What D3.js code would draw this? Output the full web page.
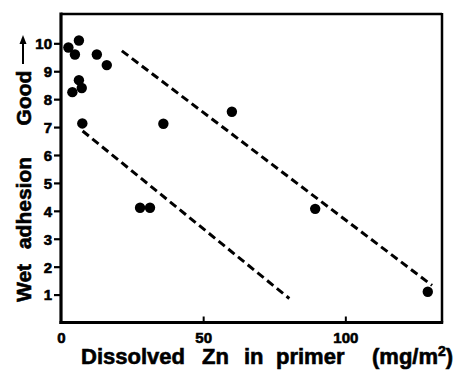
<!DOCTYPE html>
<html>
<head>
<meta charset="utf-8">
<script src="https://cdn.jsdelivr.net/npm/d3@7/dist/d3.min.js"></script>
<style>
  html, body { margin: 0; padding: 0; background: #fff; }
  svg { display: block; }
  text { font-family: "Liberation Sans", Arial, Helvetica, sans-serif; font-weight: bold; fill: #000; stroke: #000; stroke-width: 0.6px; }
</style>
</head>
<body>
<script>
// ---- data ----
const zincX = [2.6, 6.3, 4.9, 12.6, 16.1, 6.3, 4.0, 7.3, 7.5, 36.0, 60.1, 27.8, 31.3, 89.4, 129.0];
const adhesionY = [9.85, 10.1, 9.6, 9.6, 9.22, 8.68, 8.25, 8.4, 7.13, 7.12, 7.55, 4.11, 4.11, 4.07, 1.1];
const upperLine = [[21.4, 9.73], [130.5, 1.33]];
const lowerLine = [[7.6, 6.86], [80.3, 0.86]];
const xTicks = [0, 50, 100];
const yTicks = [1, 2, 3, 4, 5, 6, 7, 8, 9, 10];
const yWords = ["Wet", "adhesion", "Good"];
const xWords = ["Dissolved", "Zn", "in", "primer"];

const W = 463, H = 370;
const mLeft = 61, mRight = 442, mTop = 14, mBottom = 322.5;

const svg = d3.select("body").append("svg").attr("width", W).attr("height", H);

const x = d3.scaleLinear().domain([0, 134]).range([mLeft, mRight]);
const y = d3.scaleLinear().domain([0, 11.05]).range([mBottom, mTop]);

// frame: top & right thinner
svg.append("line").attr("x1", mLeft).attr("x2", mRight).attr("y1", mTop).attr("y2", mTop)
  .attr("stroke", "#000").attr("stroke-width", 2.5);
svg.append("line").attr("x1", mRight).attr("x2", mRight).attr("y1", mTop - 1).attr("y2", mBottom)
  .attr("stroke", "#000").attr("stroke-width", 2.5);

// y axis (outward ticks)
const yAxis = svg.append("g").attr("transform", `translate(${mLeft},0)`)
  .call(d3.axisLeft(y).tickValues(yTicks).tickSize(7).tickPadding(2).tickFormat(d3.format("d")));
yAxis.select(".domain").attr("stroke-width", 3.2).attr("d", `M0,${mTop - 1.5}V${mBottom + 1.5}`);
yAxis.selectAll(".tick line").attr("stroke-width", 2.2);
yAxis.selectAll(".tick text").style("font-size", "15px").attr("dy", "0.36em");

// x axis (inward ticks)
const xAxis = svg.append("g").attr("transform", `translate(0,${mBottom})`)
  .call(d3.axisBottom(x).tickValues(xTicks).tickSize(-6).tickPadding(0).tickFormat(d3.format("d")));
xAxis.select(".domain").attr("stroke-width", 3.2).attr("d", `M${mLeft - 1.5},0H${mRight + 1.2}`);
xAxis.selectAll(".tick line").attr("stroke-width", 2).filter(d => d === 0).remove();
xAxis.selectAll(".tick text").style("font-size", "15px").attr("y", 10).attr("dy", "0.71em");

// dashed lines
const lineGen = d3.line().x(d => x(d[0])).y(d => y(d[1]));
[upperLine, lowerLine].forEach(l => {
  svg.append("path").attr("d", lineGen(l)).attr("fill", "none")
    .attr("stroke", "#000").attr("stroke-width", 3).attr("stroke-dasharray", "8,4.5");
});

// points
svg.append("g").selectAll("circle").data(zincX).join("circle")
  .attr("cx", d => x(d)).attr("cy", (d, i) => y(adhesionY[i])).attr("r", 5.2).attr("fill", "#000");

// y label (rotated words)
const yLabCenters = [283, 203, 98];
const yl = svg.append("g");
yWords.forEach((w, i) => {
  yl.append("text").attr("transform", `translate(31,${yLabCenters[i]}) rotate(-90)`)
    .attr("text-anchor", "middle").style("font-size", "21px").text(w);
});
// arrow after "Good"
yl.append("line").attr("x1", 23).attr("x2", 23).attr("y1", 64).attr("y2", 42)
  .attr("stroke", "#000").attr("stroke-width", 2);
yl.append("path").attr("d", "M23,35L19.5,44L26.5,44Z").attr("fill", "#000");

// x label
const xt = svg.append("text").attr("y", 364).style("font-size", "22px");
const xPos = [81, 202, 244, 276];
xWords.forEach((w, i) => xt.append("tspan").attr("x", xPos[i]).text(w));
xt.append("tspan").attr("x", 372).text("(mg/m");
xt.append("tspan").attr("dy", -8).style("font-size", "14px").text("2");
xt.append("tspan").attr("dy", 8).text(")");
</script>
</body>
</html>
